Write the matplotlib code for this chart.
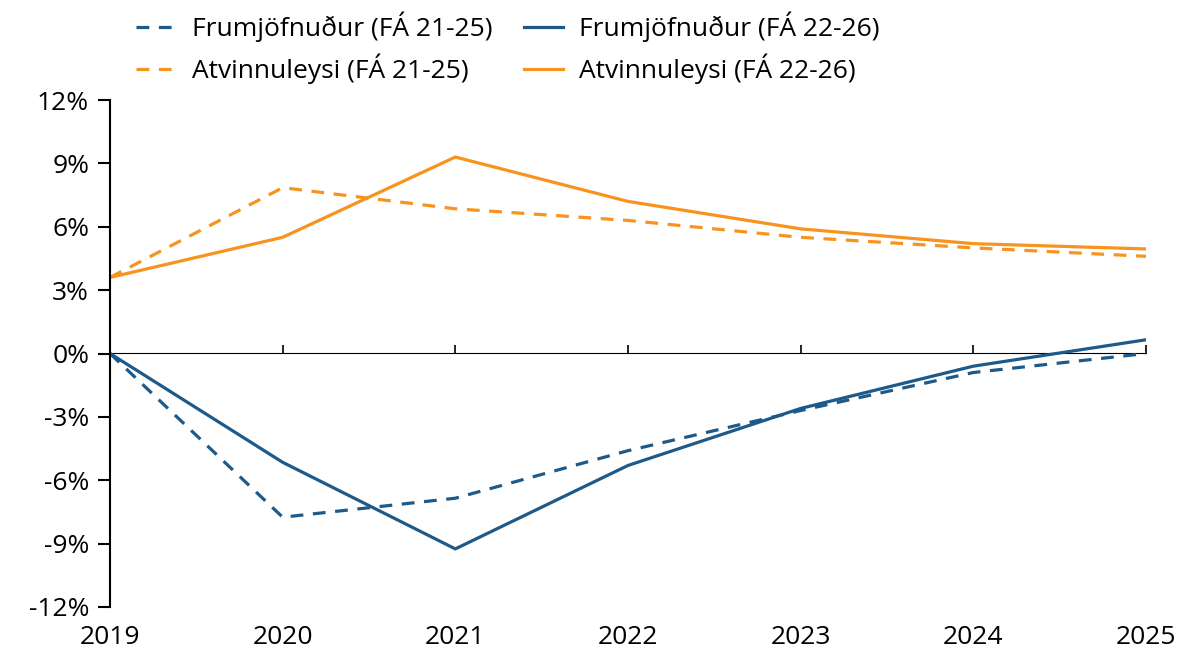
import matplotlib.pyplot as plt
from matplotlib.ticker import FuncFormatter

years = [2019, 2020, 2021, 2022, 2023, 2024, 2025]
frum_2125 = [0.0, -7.75, -6.85, -4.6, -2.7, -0.9, 0.0]
frum_2226 = [0.0, -5.15, -9.25, -5.3, -2.6, -0.6, 0.65]
atv_2125 = [3.6, 7.85, 6.85, 6.3, 5.5, 5.0, 4.6]
atv_2226 = [3.6, 5.5, 9.3, 7.2, 5.9, 5.2, 4.95]

blue = "#1d5a8a"
orange = "#f7931e"
plt.rcParams['font.family'] = ['Open Sans', 'DejaVu Sans']
fs = 19

fig = plt.figure(figsize=(11.88, 6.57), dpi=100)
ax = fig.add_axes([110/1188, 1-607/657, (1146-110)/1188, (607-100)/657])

lw = 2.3
ax.plot(years, frum_2125, color=blue, lw=lw, ls=(0, (4, 3)), label="Frumjöfnuður (FÁ 21-25)")
ax.plot(years, atv_2125, color=orange, lw=lw, ls=(0, (4, 3)), label="Atvinnuleysi (FÁ 21-25)")
ax.plot(years, frum_2226, color=blue, lw=lw, label="Frumjöfnuður (FÁ 22-26)")
ax.plot(years, atv_2226, color=orange, lw=lw, label="Atvinnuleysi (FÁ 22-26)")

ax.set_xlim(2019, 2025)
ax.set_ylim(-12, 12)
ax.set_yticks(range(-12, 13, 3))
ax.yaxis.set_major_formatter(FuncFormatter(lambda v, p: f"{v:.0f}%"))
ax.set_xticks(years)
ax.tick_params(axis='y', direction='out', length=9, width=1.5, labelsize=fs, pad=6)
ax.tick_params(axis='x', length=0, labelsize=fs, pad=13)
for s in ['top', 'right', 'bottom']:
    ax.spines[s].set_visible(False)
ax.spines['left'].set_linewidth(1.5)

# zero line with small ticks
sec = ax.secondary_xaxis(0.5)
sec.set_xticks(years)
sec.tick_params(direction='out', length=6, width=1.2, labelbottom=False, labeltop=False)
sec.spines['bottom'].set_linewidth(1.5)
sec.set_xticklabels([])

leg = ax.legend(loc='lower left', bbox_to_anchor=(0.01, 1.0), ncol=2, frameon=False,
                fontsize=fs, handlelength=1.5, columnspacing=1.2, handletextpad=0.6,
                labelspacing=0.45, borderaxespad=0.2)

fig.savefig("out.png", dpi=100)
